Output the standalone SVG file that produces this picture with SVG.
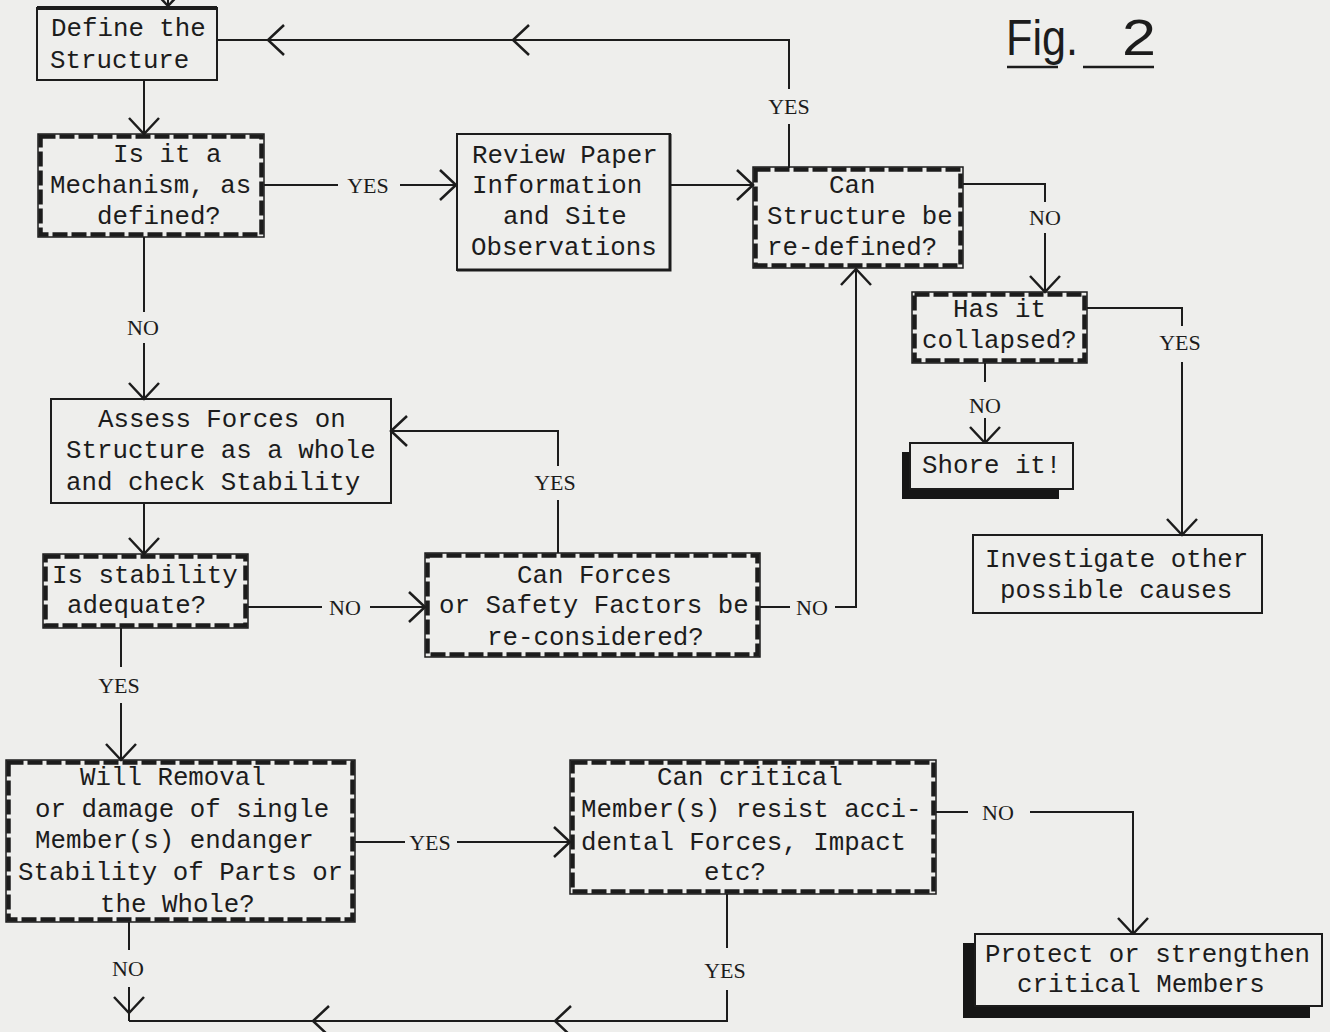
<svg xmlns="http://www.w3.org/2000/svg" xmlns:xlink="http://www.w3.org/1999/xlink" width="1330" height="1032" viewBox="0 0 1330 1032">
<style>
.bg{fill:#eeeeec}
.t{font-family:"Liberation Mono","DejaVu Sans Mono",monospace;font-size:25.8px;fill:#1c1c1c}
.lb{font-family:"Liberation Serif","DejaVu Serif",serif;font-size:22px;fill:#1c1c1c;text-anchor:middle}
.box{fill:none;stroke:#1c1c1c;stroke-width:2}
.dbo{fill:none;stroke:#1c1c1c;stroke-width:1.5}
.dbi{fill:none;stroke:#1c1c1c;stroke-width:4.5;stroke-dasharray:15 4}
.shadow{fill:#161616}
.front{fill:#eeeeec;stroke:#1c1c1c;stroke-width:2}
.c{fill:none;stroke:#1c1c1c;stroke-width:2}
.fig{font-family:"Liberation Sans","DejaVu Sans",sans-serif;font-size:50px;fill:#1c1c1c}
</style>
<defs>
<path id="ah" d="M-16,-15 L0,0 L-16,15" fill="none" stroke="#1c1c1c" stroke-width="2.5"/>
</defs>
<rect class="bg" x="0" y="0" width="1330" height="1032"/>

<g id="connectors">
<path class="c" d="M168,-2 V6"/>
<use xlink:href="#ah" transform="translate(168,6) rotate(90)"/>
<path class="c" d="M789,168 V124 M789,89 V40 H217"/>
<use xlink:href="#ah" transform="translate(268,40) rotate(180)"/>
<use xlink:href="#ah" transform="translate(513,40) rotate(180)"/>
<text class="lb" x="789" y="114">YES</text>
<path class="c" d="M144,80 V134"/>
<use xlink:href="#ah" transform="translate(144,134) rotate(90)"/>
<path class="c" d="M264,185 H338 M400,185 H457"/>
<use xlink:href="#ah" transform="translate(456,185)"/>
<text class="lb" x="368" y="193">YES</text>
<path class="c" d="M670,185 H753"/>
<use xlink:href="#ah" transform="translate(753,185)"/>
<path class="c" d="M963,184 H1045 V202 M1045,233 V292"/>
<use xlink:href="#ah" transform="translate(1045,292) rotate(90)"/>
<text class="lb" x="1045" y="225">NO</text>
<path class="c" d="M1087,308 H1182 V326 M1182,362 V535"/>
<use xlink:href="#ah" transform="translate(1182,535) rotate(90)"/>
<text class="lb" x="1180" y="350">YES</text>
<path class="c" d="M985,363 V382 M985,418 V443"/>
<use xlink:href="#ah" transform="translate(985,443) rotate(90)"/>
<text class="lb" x="985" y="413">NO</text>
<path class="c" d="M144,237 V312 M144,343 V399"/>
<use xlink:href="#ah" transform="translate(144,399) rotate(90)"/>
<text class="lb" x="143" y="335">NO</text>
<path class="c" d="M144,503 V554"/>
<use xlink:href="#ah" transform="translate(144,554) rotate(90)"/>
<path class="c" d="M248,607 H322 M370,607 H425"/>
<use xlink:href="#ah" transform="translate(425,607)"/>
<text class="lb" x="345" y="615">NO</text>
<path class="c" d="M558,553 V500 M558,466 V431 H391"/>
<use xlink:href="#ah" transform="translate(391,431) rotate(180)"/>
<text class="lb" x="555" y="490">YES</text>
<path class="c" d="M760,607 H790 M835,607 H856 V269"/>
<use xlink:href="#ah" transform="translate(856,269) rotate(-90)"/>
<text class="lb" x="812" y="615">NO</text>
<path class="c" d="M121,628 V667 M121,703 V760"/>
<use xlink:href="#ah" transform="translate(121,760) rotate(90)"/>
<text class="lb" x="119" y="693">YES</text>
<path class="c" d="M355,842 H405 M457,842 H570"/>
<use xlink:href="#ah" transform="translate(570,842)"/>
<text class="lb" x="430" y="850">YES</text>
<path class="c" d="M936,812 H968 M1030,812 H1133 V934"/>
<use xlink:href="#ah" transform="translate(1133,934) rotate(90)"/>
<text class="lb" x="998" y="820">NO</text>
<path class="c" d="M727,894 V948 M727,990 V1021 H129"/>
<use xlink:href="#ah" transform="translate(555,1021) rotate(180)"/>
<use xlink:href="#ah" transform="translate(313,1021) rotate(180)"/>
<text class="lb" x="725" y="978">YES</text>
<path class="c" d="M129,922 V950 M129,987 V1021"/>
<use xlink:href="#ah" transform="translate(129,1013) rotate(90)"/>
<text class="lb" x="128" y="976">NO</text>
</g>

<g id="n-define">
<rect class="box" x="37" y="8" width="180" height="72"/>
<path d="M37,8 H217" stroke="#1c1c1c" stroke-width="4"/>
<text class="t" x="51" y="36">Define the</text>
<text class="t" x="50" y="68">Structure</text>
</g>

<g id="n-mechanism">
<rect class="dbo" x="38" y="134" width="226" height="103"/>
<rect class="dbi" x="40.5" y="136.5" width="221" height="98"/>
<text class="t" x="113" y="162">Is it a</text>
<text class="t" x="50" y="193">Mechanism, as</text>
<text class="t" x="97" y="224">defined?</text>
</g>

<g id="n-review">
<rect class="box" x="457" y="134" width="213" height="136"/>
<path d="M670,134 V270 H457" fill="none" stroke="#1c1c1c" stroke-width="3"/>
<text class="t" x="472" y="163">Review Paper</text>
<text class="t" x="472" y="193">Information</text>
<text class="t" x="503" y="224">and Site</text>
<text class="t" x="471" y="255">Observations</text>
</g>

<g id="n-redefine">
<rect class="dbo" x="753" y="167" width="210" height="101"/>
<rect class="dbi" x="755.5" y="169.5" width="205" height="96"/>
<text class="t" x="829" y="193">Can</text>
<text class="t" x="767" y="224">Structure be</text>
<text class="t" x="767" y="255">re-defined?</text>
</g>

<g id="n-collapsed">
<rect class="dbo" x="912" y="292" width="175" height="71"/>
<rect class="dbi" x="914.5" y="294.5" width="170" height="66"/>
<text class="t" x="953" y="317">Has it</text>
<text class="t" x="922" y="348">collapsed?</text>
</g>

<g id="n-shore">
<rect class="shadow" x="902" y="452" width="157" height="47"/>
<rect class="front" x="910" y="443" width="163" height="46"/>
<text class="t" x="922" y="473">Shore it!</text>
</g>

<g id="n-investigate">
<rect class="box" x="973" y="535" width="289" height="78"/>
<text class="t" x="985" y="567">Investigate other</text>
<text class="t" x="1000" y="598">possible causes</text>
</g>

<g id="n-assess">
<rect class="box" x="51" y="399" width="340" height="104"/>
<text class="t" x="98" y="427">Assess Forces on</text>
<text class="t" x="66" y="458">Structure as a whole</text>
<text class="t" x="66" y="490">and check Stability</text>
</g>

<g id="n-stability">
<rect class="dbo" x="43" y="554" width="205" height="74"/>
<rect class="dbi" x="45.5" y="556.5" width="200" height="69"/>
<text class="t" x="52" y="583">Is stability</text>
<text class="t" x="67" y="613">adequate?</text>
</g>

<g id="n-forces">
<rect class="dbo" x="425" y="553" width="335" height="104"/>
<rect class="dbi" x="427.5" y="555.5" width="330" height="99"/>
<text class="t" x="517" y="583">Can Forces</text>
<text class="t" x="439" y="613">or Safety Factors be</text>
<text class="t" x="487" y="645">re-considered?</text>
</g>

<g id="n-removal">
<rect class="dbo" x="6" y="760" width="349" height="162"/>
<rect class="dbi" x="8.5" y="762.5" width="344" height="157"/>
<text class="t" x="80" y="785">Will Removal</text>
<text class="t" x="35" y="817">or damage of single</text>
<text class="t" x="35" y="848">Member(s) endanger</text>
<text class="t" x="18" y="880">Stability of Parts or</text>
<text class="t" x="100" y="912">the Whole?</text>
</g>

<g id="n-critical">
<rect class="dbo" x="570" y="760" width="366" height="134"/>
<rect class="dbi" x="572.5" y="762.5" width="361" height="129"/>
<text class="t" x="657" y="785">Can critical</text>
<text class="t" x="581" y="817">Member(s) resist acci-</text>
<text class="t" x="581" y="850">dental Forces, Impact</text>
<text class="t" x="704" y="880">etc?</text>
</g>

<g id="n-protect">
<rect class="shadow" x="963" y="943" width="347" height="75"/>
<rect class="front" x="975" y="934" width="347" height="72"/>
<text class="t" x="985" y="962">Protect or strengthen</text>
<text class="t" x="1017" y="992">critical Members</text>
</g>

<g id="fig-title">
<text class="fig" x="1006" y="55" textLength="72" lengthAdjust="spacingAndGlyphs">Fig.</text>
<text class="fig" x="1122" y="55" textLength="34" lengthAdjust="spacingAndGlyphs">2</text>
<path d="M1007,67 H1058 M1083,67 H1154" stroke="#1c1c1c" stroke-width="2.5"/>
</g>
</svg>
